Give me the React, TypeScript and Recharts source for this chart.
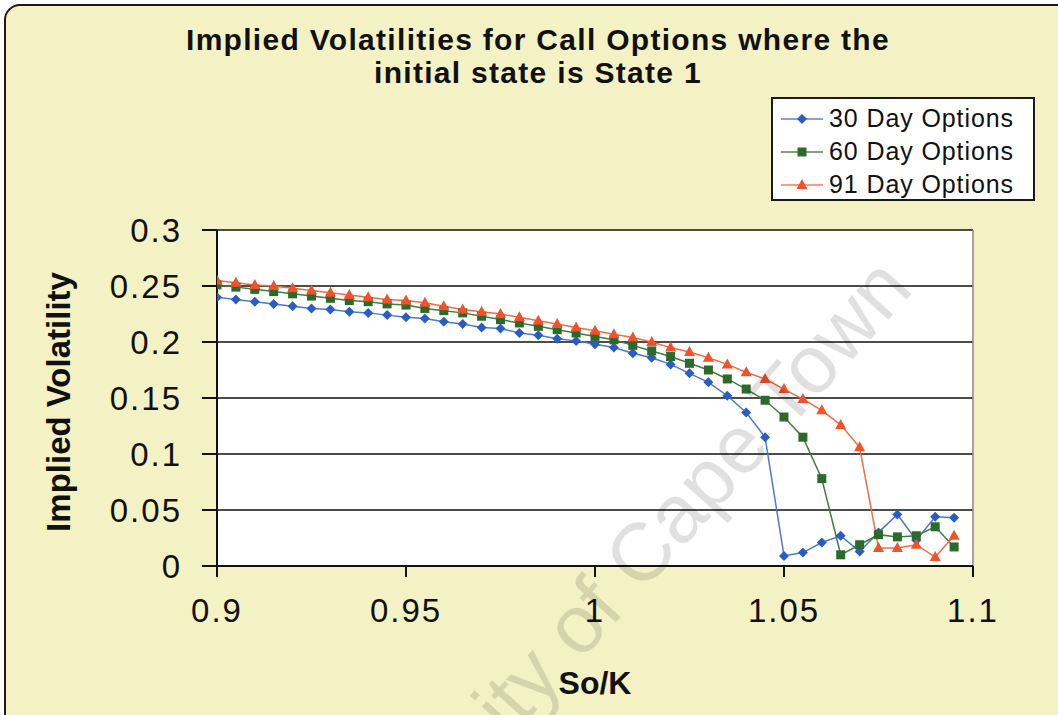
import React from "react";
import { LineChart, Line, XAxis, YAxis, CartesianGrid, Label, ReferenceLine } from "recharts";

// So/K values (step 0.005)
const soK = [
  0.9, 0.905, 0.91, 0.915, 0.92, 0.925, 0.93, 0.935, 0.94, 0.945,
  0.95, 0.955, 0.96, 0.965, 0.97, 0.975, 0.98, 0.985, 0.99, 0.995,
  1.0, 1.005, 1.01, 1.015, 1.02, 1.025, 1.03, 1.035, 1.04, 1.045,
  1.05, 1.055, 1.06, 1.065, 1.07, 1.075, 1.08, 1.085, 1.09, 1.095,
];

const vol30 = [
  0.240, 0.238, 0.236, 0.234, 0.232, 0.230, 0.229, 0.227, 0.226, 0.224,
  0.222, 0.221, 0.218, 0.216, 0.213, 0.212, 0.208, 0.206, 0.203, 0.201,
  0.198, 0.195, 0.190, 0.186, 0.180, 0.172, 0.164, 0.152, 0.137, 0.115,
  0.009, 0.012, 0.021, 0.027, 0.013, 0.030, 0.046, 0.023, 0.044, 0.043,
];

const vol60 = [
  0.251, 0.249, 0.247, 0.245, 0.243, 0.241, 0.239, 0.237, 0.236, 0.234,
  0.233, 0.230, 0.228, 0.226, 0.223, 0.220, 0.217, 0.214, 0.211, 0.208,
  0.205, 0.202, 0.197, 0.192, 0.187, 0.181, 0.175, 0.167, 0.158, 0.148,
  0.133, 0.115, 0.078, 0.010, 0.019, 0.028, 0.026, 0.027, 0.035, 0.017,
];

const vol91 = [
  0.255, 0.253, 0.251, 0.250, 0.248, 0.246, 0.244, 0.242, 0.240, 0.238,
  0.237, 0.235, 0.232, 0.229, 0.227, 0.225, 0.222, 0.219, 0.216, 0.213,
  0.210, 0.207, 0.204, 0.200, 0.195, 0.191, 0.186, 0.180, 0.173, 0.167,
  0.158, 0.149, 0.139, 0.126, 0.106, 0.016, 0.016, 0.019, 0.008, 0.027,
];

const xTicks = [0.9, 0.95, 1, 1.05, 1.1];
const yTicks = [0, 0.05, 0.1, 0.15, 0.2, 0.25, 0.3];
const seriesNames = ["30 Day Options", "60 Day Options", "91 Day Options"];

const BLUE = "#2a5cc6";
const GREEN = "#2b6a2b";
const RED = "#f2512a";
const FONT = '"Liberation Sans", Arial, sans-serif';

const data = soK.map((x, i) => ({ x, d30: vol30[i], d60: vol60[i], d91: vol91[i] }));

function marker(shape: string, color: string, cx: number, cy: number, key?: string) {
  if (shape === "diamond") {
    return <polygon key={key} points={`${cx},${cy - 5} ${cx + 5},${cy} ${cx},${cy + 5} ${cx - 5},${cy}`} fill={color} />;
  }
  if (shape === "square") {
    return <rect key={key} x={cx - 4.5} y={cy - 4.5} width={9} height={9} fill={color} />;
  }
  return <polygon key={key} points={`${cx},${cy - 6} ${cx + 5.5},${cy + 4} ${cx - 5.5},${cy + 4}`} fill={color} />;
}

const dotFn = (shape: string, color: string) => (props: any) => {
  const { cx, cy, index } = props;
  if (cx == null || cy == null) return <g key={`e-${shape}-${index}`} />;
  return marker(shape, color, cx, cy, `${shape}-${index}`);
};

const legendItems = [
  { name: seriesNames[0], color: BLUE, lineColor: "#5a82d6", shape: "diamond" },
  { name: seriesNames[1], color: GREEN, lineColor: "#4f8a4f", shape: "square" },
  { name: seriesNames[2], color: RED, lineColor: "#f57a58", shape: "triangle" },
];

function LegendBox() {
  return (
    <div
      style={{
        position: "absolute",
        left: 771,
        top: 97,
        width: 264,
        height: 104,
        border: "2px solid #1a1a1a",
        background: "#fff",
        boxSizing: "border-box",
        paddingTop: 3,
      }}
    >
      {legendItems.map((it) => (
        <div key={it.name} style={{ display: "flex", alignItems: "center", height: 33 }}>
          <svg width={56} height={20}>
            <line x1={8} y1={10} x2={50} y2={10} stroke={it.lineColor} strokeWidth={1.5} />
            {marker(it.shape, it.color, 29, 10)}
          </svg>
          <span style={{ fontFamily: FONT, fontSize: 25, letterSpacing: 0.9, color: "#111" }}>{it.name}</span>
        </div>
      ))}
    </div>
  );
}

export default function App() {
  return (
    <div
      style={{
        position: "absolute",
        left: 0,
        top: 0,
        width: 1058,
        height: 715,
        overflow: "hidden",
        background: "#fff",
        fontFamily: FONT,
      }}
    >
      <div
        style={{
          position: "absolute",
          left: 4,
          top: 4,
          width: 1080,
          height: 740,
          border: "2px solid #1a1a1a",
          borderRadius: 16,
          background: "#f4f2c4",
        }}
      />
      <div
        style={{
          position: "absolute",
          left: 0,
          top: 23,
          width: 1076,
          textAlign: "center",
          fontFamily: FONT,
          fontWeight: "bold",
          fontSize: 30,
          lineHeight: "33px",
          letterSpacing: 1.3,
          color: "#111",
        }}
      >
        Implied Volatilities for Call Options where the
        <br />
        initial state is State 1
      </div>
      <div style={{ position: "absolute", left: 0, top: 0 }}>
        <LineChart width={1058} height={715} data={data} margin={{ top: 230, right: 85, bottom: 0, left: 0 }}>
          <CartesianGrid vertical={false} stroke="#111" strokeWidth={1.5} fill="#fff" fillOpacity={1} />
          <ReferenceLine x={1.1} stroke="#888" strokeWidth={1.5} />
          <XAxis
            dataKey="x"
            type="number"
            domain={[0.9, 1.1]}
            ticks={xTicks}
            height={149}
            tickSize={11}
            tickMargin={22}
            axisLine={{ stroke: "#111", strokeWidth: 2 }}
            tickLine={{ stroke: "#111", strokeWidth: 2 }}
            tick={{ fill: "#111", fontSize: 33, fontFamily: FONT, letterSpacing: 2 }}
            allowDataOverflow
          >
            <Label
              content={() => (
                <text x={595} y={694} textAnchor="middle" fontFamily={FONT} fontWeight="bold" fontSize={32} fill="#111">
                  So/K
                </text>
              )}
            />
          </XAxis>
          <YAxis
            type="number"
            domain={[0, 0.3]}
            ticks={yTicks}
            width={217}
            tickSize={15}
            tickMargin={20}
            axisLine={{ stroke: "#111", strokeWidth: 2 }}
            tickLine={{ stroke: "#111", strokeWidth: 2 }}
            tick={{ fill: "#111", fontSize: 33, fontFamily: FONT, letterSpacing: 2 }}
            allowDataOverflow
          >
            <Label
              content={() => (
                <text
                  x={0}
                  y={0}
                  transform="translate(70,402) rotate(-90)"
                  textAnchor="middle"
                  fontFamily={FONT}
                  fontWeight="bold"
                  fontSize={33}
                  fill="#111"
                >
                  Implied Volatility
                </text>
              )}
            />
          </YAxis>
          <Line
            type="linear"
            dataKey="d30"
            name={seriesNames[0]}
            stroke="#4d78d2"
            strokeWidth={1.5}
            dot={dotFn("diamond", BLUE)}
            activeDot={false}
            isAnimationActive={false}
          />
          <Line
            type="linear"
            dataKey="d60"
            name={seriesNames[1]}
            stroke="#3f7d3f"
            strokeWidth={1.5}
            dot={dotFn("square", GREEN)}
            activeDot={false}
            isAnimationActive={false}
          />
          <Line
            type="linear"
            dataKey="d91"
            name={seriesNames[2]}
            stroke="#f46a45"
            strokeWidth={1.5}
            dot={dotFn("triangle", RED)}
            activeDot={false}
            isAnimationActive={false}
          />
        </LineChart>
      </div>
      <LegendBox />
      <svg width={1058} height={715} style={{ position: "absolute", left: 0, top: 0, pointerEvents: "none" }}>
        <text
          x={0}
          y={0}
          transform="translate(915,290) rotate(-48)"
          textAnchor="end"
          fontFamily={FONT}
          fontSize={82}
          fill="#000"
          fillOpacity={0.12}
        >
          University of Cape Town
        </text>
      </svg>
    </div>
  );
}
